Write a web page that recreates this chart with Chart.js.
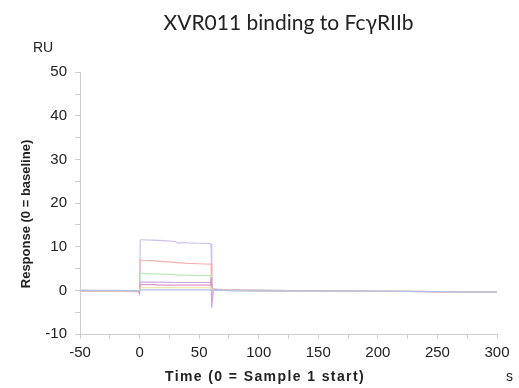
<!DOCTYPE html>
<html>
<head>
<meta charset="utf-8">
<script src="https://cdn.jsdelivr.net/npm/chart.js@4.4.1/dist/chart.umd.min.js"></script>
<style>
html,body{margin:0;padding:0;background:#fff;}
#wrap{width:519px;height:388px;position:relative;}
</style>
</head>
<body>
<div id="wrap"><canvas id="c" width="519" height="388"></canvas></div>
<script>
// ---- Data ----
const chartTitle = "XVR011 binding to FcγRIIb";
const xTitle = "Time (0 = Sample 1 start)";
const yTitle = "Response (0 = baseline)";
const yUnit = "RU";
const xUnit = "s";

const times = [-50, -20, -1, 0, 0.6, 2, 10, 20, 30, 33, 36, 40, 50, 59.5, 60, 60.6, 62, 65, 70, 80, 100, 150, 200, 250, 300];

const seriesA = [-0.1, -0.1, -0.2, 0, 11.6, 11.6, 11.5, 11.4, 11.2, 10.8, 11.0, 10.9, 10.8, 10.7, 10.6, 0.6, 0.4, 0.3, 0.2, 0.1, 0, -0.1, -0.2, -0.3, -0.4];
const seriesB = [0, -0.1, -0.2, 0, 7.0, 6.9, 6.8, 6.6, 6.4, 6.3, 6.3, 6.2, 6.1, 6.0, 6.0, 0.4, 0.3, 0.2, 0.1, 0.1, 0, -0.1, -0.2, -0.3, -0.4];
const seriesC = [0, -0.1, -0.1, 0, 3.9, 3.9, 3.8, 3.7, 3.6, 3.5, 3.5, 3.5, 3.4, 3.4, 3.4, 0.3, 0.2, 0.1, 0.1, 0, 0, -0.1, -0.2, -0.3, -0.4];
const seriesD = [-0.1, -0.1, -0.2, 0, 1.9, 1.9, 1.9, 1.9, 1.8, 1.8, 1.8, 1.8, 1.8, 1.8, 1.8, -4.0, 0.2, 0.1, 0, 0, 0, -0.1, -0.2, -0.3, -0.4];
const seriesE = [-0.2, -0.2, -0.3, -0.8, 1.3, 1.3, 1.3, 1.2, 1.2, 1.2, 1.2, 1.2, 1.2, 1.2, 3.0, 0.2, 0.1, 0.1, 0, 0, -0.1, -0.1, -0.2, -0.3, -0.4];
const seriesF = [-0.1, -0.1, -0.1, 0, 0.6, 0.6, 0.6, 0.6, 0.6, 0.6, 0.6, 0.6, 0.6, 0.6, 0.6, 0.1, 0.1, 0, 0, 0, -0.1, -0.1, -0.2, -0.3, -0.4];
const seriesG = [0, 0, -0.1, 0, 0.1, 0.1, 0.1, 0.1, 0.1, 0.1, 0.1, 0.1, 0.1, 0.1, 0.1, 0, 0, 0, 0, -0.1, -0.1, -0.1, -0.2, -0.3, -0.4];

const seriesList = [seriesG, seriesF, seriesE, seriesD, seriesC, seriesB, seriesA];
const seriesColors = ['#b4c0e6', '#ebde9c', '#dc9ac8', '#cca6e4', '#bfe6b8', '#f4b0b0', '#cfc0ee'];

const xMin = -50, xMax = 300, xStep = 25, xLabelStep = 50;
const yMin = -10, yMax = 50, yStep = 5, yLabelStep = 10;

// ---- Build ----
const datasets = seriesList.map((s, i) => ({
  data: s.map((v, k) => ({x: times[k], y: v})),
  borderColor: seriesColors[i],
  borderWidth: 1.2,
  pointRadius: 0,
  tension: 0,
  fill: false
}));

const textPlugin = {
  id: 'textPlugin',
  afterDraw(chart) {
    const ctx = chart.ctx;
    ctx.save();
    ctx.fillStyle = '#222';
    ctx.font = '14px "Liberation Sans", Arial, sans-serif';
    ctx.textAlign = 'left';
    ctx.textBaseline = 'middle';
    ctx.fillText(yUnit, 33, 48);
    ctx.fillText(xUnit, 506, 377);
    // x title
    ctx.font = 'bold 14px "Liberation Sans", Arial, sans-serif';
    try { ctx.letterSpacing = '1.4px'; } catch (e) {}
    ctx.textAlign = 'center';
    ctx.fillText(xTitle, 265, 377);
    try { ctx.letterSpacing = '0px'; } catch (e) {}
    // y title
    ctx.translate(26, 214);
    ctx.rotate(-Math.PI / 2);
    ctx.font = 'bold 13px "Liberation Sans", Arial, sans-serif';
    ctx.fillText(yTitle, 0, 0);
    ctx.restore();
  }
};

new Chart(document.getElementById('c'), {
  type: 'line',
  data: { datasets },
  options: {
    responsive: false,
    animation: false,
    events: [],
    layout: { padding: { left: 8, right: 22, top: 0, bottom: 4 } },
    plugins: {
      legend: { display: false },
      tooltip: { enabled: false },
      title: {
        display: true,
        text: chartTitle,
        fullSize: false,
        color: '#222',
        font: { family: 'Lato, "Open Sans", sans-serif', size: 21, weight: 'normal', lineHeight: 1.2 },
        padding: { top: 11, bottom: 36 }
      }
    },
    scales: {
      x: {
        type: 'linear',
        min: xMin, max: xMax,
        afterFit(s) { s.height = 50; },
        border: { color: '#cfcfcf', width: 1 },
        grid: { drawOnChartArea: false, drawTicks: true, tickLength: 5, color: '#cfcfcf' },
        ticks: {
          stepSize: xStep,
          autoSkip: false,
          maxRotation: 0,
          padding: 5,
          color: '#222',
          font: { family: '"Liberation Sans", Arial, sans-serif', size: 15 },
          callback: v => (v % xLabelStep === 0 ? String(v) : '')
        }
      },
      y: {
        min: yMin, max: yMax,
        afterFit(s) { s.width = 72; },
        border: { color: '#cfcfcf', width: 1 },
        grid: { drawOnChartArea: false, drawTicks: true, tickLength: 5, color: '#cfcfcf' },
        ticks: {
          stepSize: yStep,
          autoSkip: false,
          padding: 8,
          color: '#222',
          font: { family: '"Liberation Sans", Arial, sans-serif', size: 15 },
          callback: v => (v % yLabelStep === 0 ? String(v) : '')
        }
      }
    }
  },
  plugins: [textPlugin]
});
</script>
</body>
</html>
